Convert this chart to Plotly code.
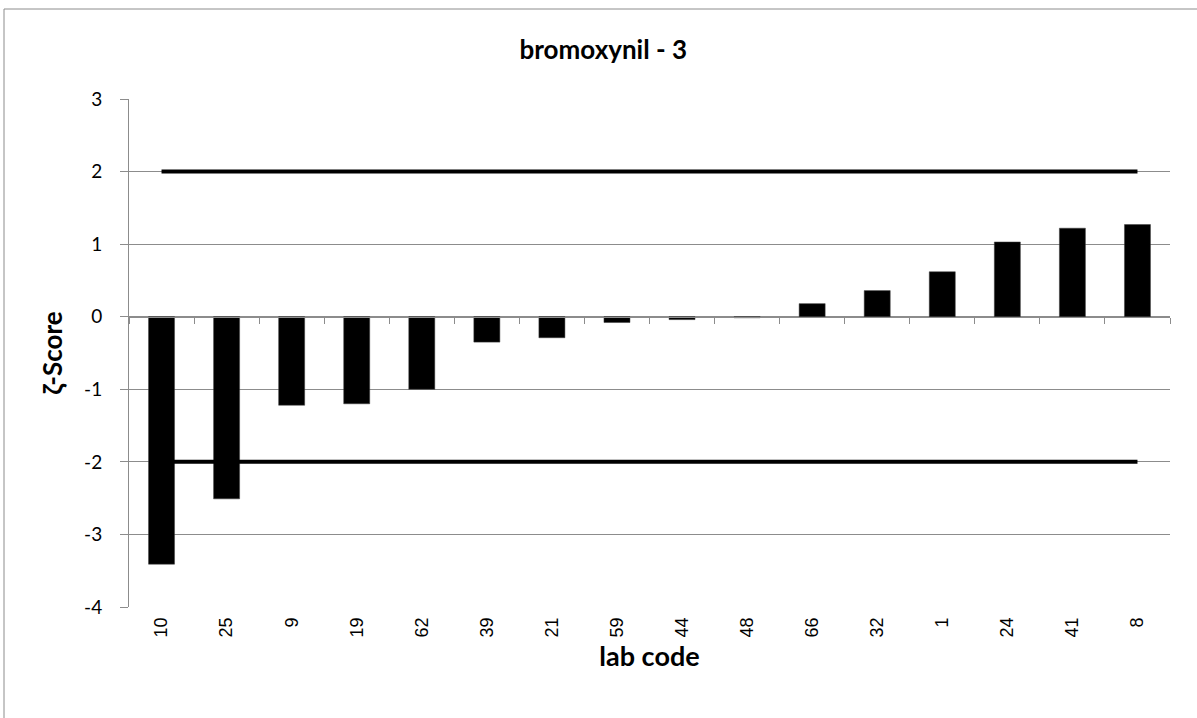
import plotly.graph_objects as go

labs = ["10", "25", "9", "19", "62", "39", "21", "59", "44", "48",
        "66", "32", "1", "24", "41", "8"]
zeta = [-3.41, -2.51, -1.22, -1.20, -1.00, -0.35, -0.29, -0.08, -0.04, -0.015,
        0.18, 0.36, 0.62, 1.03, 1.22, 1.27]
upper_limit = [2] * len(labs)
lower_limit = [-2] * len(labs)
y_ticks = [-4, -3, -2, -1, 0, 1, 2, 3]
y_tick_text = ["-4", "-3", "-2", "-1", "0", "1", "2", "3"]

grid = "#8c8c8c"
sans = "Lato, Open Sans, sans-serif"

fig = go.Figure()
fig.add_trace(go.Bar(
    x=labs, y=zeta,
    marker=dict(color="black", line=dict(color="#404040", width=0.5)),
    showlegend=False,
))
for lim in (upper_limit, lower_limit):
    fig.add_trace(go.Scatter(
        x=labs, y=lim, mode="lines", xaxis="x2",
        line=dict(color="black", width=4),
        showlegend=False,
    ))

fig.update_layout(
    width=1197, height=718,
    margin=dict(l=129, r=27, t=99, b=111),
    paper_bgcolor="white", plot_bgcolor="white",
    bargap=0.6,
    title=dict(text="<b>bromoxynil - 3</b>", x=0.504, xanchor="center",
               y=0.930, yanchor="middle",
               font=dict(family=sans, size=26, color="black")),
    xaxis=dict(
        type="category", tickangle=-90, ticks="", showline=False, showgrid=False,
        ticklabelstandoff=6,
        tickfont=dict(family="Liberation Sans, Arial", size=18, color="black"),
        title=dict(text="<b>lab code</b>", standoff=10,
                   font=dict(family=sans, size=27, color="black")),
    ),
    xaxis2=dict(
        matches="x", overlaying="x", anchor="free", position=4 / 7,
        type="category", showticklabels=False, ticks="outside", tickson="boundaries",
        ticklen=6, tickcolor=grid, showline=True, linecolor=grid, linewidth=1,
        showgrid=False,
    ),
    yaxis=dict(
        range=[-4, 3], tickvals=y_ticks, ticktext=y_tick_text,
        showgrid=True, gridcolor=grid, gridwidth=1,
        zeroline=False, showline=True, linecolor=grid, linewidth=1,
        ticks="outside", ticklen=8, tickcolor=grid, ticklabelstandoff=14,
        tickfont=dict(family=sans, size=19, color="black"),
        title=dict(text="<b>ζ-Score</b>", standoff=14,
                   font=dict(family=sans, size=26, color="black")),
    ),
    shapes=[dict(type="rect", xref="paper", yref="paper",
                 x0=-125 / 1041, x1=1 + 40 / 1041, y0=-120 / 508, y1=1 + 90 / 508,
                 line=dict(color=grid, width=1), layer="below")],
)

fig.write_html("out.html", config={"displayModeBar": False},
               post_script="document.body.style.margin='0px';")
